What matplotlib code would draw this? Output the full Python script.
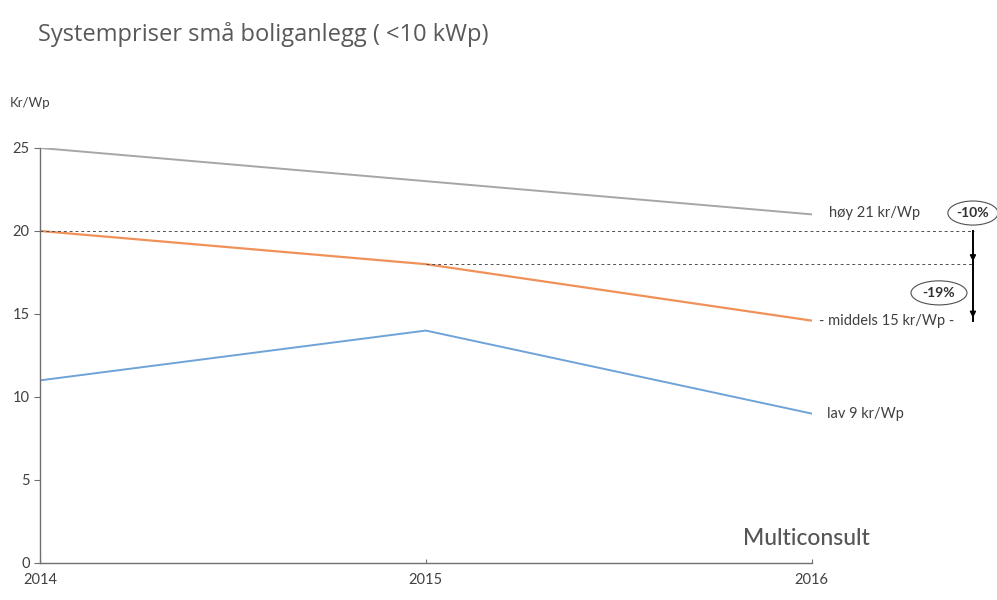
import matplotlib.pyplot as plt
from matplotlib.patches import Ellipse

plt.rcParams['font.family'] = ['Lato', 'DejaVu Sans']

years = [2014, 2015, 2016]
hoy = [25, 23, 21]
middels = [20, 18, 14.6]
lav = [11, 14, 9]
yticks = [0, 5, 10, 15, 20, 25]

grey = '#a6a6a6'
orange = '#f0915a'
blue = '#6fa3d8'
text_col = '#404040'

fig = plt.figure(figsize=(9.97, 6), dpi=100)
ax = fig.add_axes([0.0401, 0.0617, 0.774, 0.6917])

ax.plot(years, hoy, color=grey, lw=1.4)
ax.plot(years, middels, color=orange, lw=1.6)
ax.plot(years, lav, color=blue, lw=1.4)

ax.set_xlim(2014, 2016)
ax.set_ylim(0, 25)
ax.set_yticks(yticks)
ax.set_xticks(years)
ax.tick_params(axis='both', labelsize=10.5, colors='#707070', labelcolor=text_col, length=4, width=0.8)
ax.tick_params(axis='x', direction='in', length=3, pad=7)
for s in ['top', 'right']:
    ax.spines[s].set_visible(False)
for s in ['left', 'bottom']:
    ax.spines[s].set_color('#707070')
    ax.spines[s].set_linewidth(1.0)

# reference levels for the price change
x_end = 2016.42
ax.plot([2014, x_end], [middels[0], middels[0]], ls=(0, (3, 3)), color='#505050', lw=0.7, clip_on=False)
ax.plot([2015, x_end], [middels[1], middels[1]], ls=(0, (3, 3)), color='#505050', lw=0.7, clip_on=False)

# change arrow: one line from 2014 level down to 2016 level, heads at each step
xa = 2016.418
ax.plot([xa, xa], [middels[0], middels[2]], color='black', lw=1.4, clip_on=False)
for y in middels[1:]:
    ax.annotate('', xy=(xa, y), xytext=(xa, y + 0.8),
                arrowprops=dict(arrowstyle='-|>', color='black', lw=1.0, mutation_scale=9),
                annotation_clip=False)

pct10 = round((middels[1] / middels[0] - 1) * 100)
pct19 = round((middels[2] / middels[1] - 1) * 100)
ax.text(2016.418, 21.08, f'{pct10}%', fontsize=10, fontweight='bold', color='#303030',
        ha='center', va='center', clip_on=False)
ax.add_patch(Ellipse((2016.418, 21.08), 0.13, 1.45, fill=False, ec='#505050', lw=0.8, clip_on=False))
ax.text(2016.33, 16.27, f'{pct19}%', fontsize=10, fontweight='bold', color='#303030',
        ha='center', va='center', clip_on=False)
ax.add_patch(Ellipse((2016.33, 16.27), 0.145, 1.45, fill=False, ec='#505050', lw=0.8, clip_on=False))

# series labels at the end of each line
ax.text(2016.045, hoy[-1] + 0.1, f'høy {round(hoy[-1])} kr/Wp', fontsize=10.5, color=text_col, va='center', clip_on=False)
ax.text(2016.02, middels[-1], f'- middels {round(middels[-1])} kr/Wp -', fontsize=10.5, color=text_col, va='center', clip_on=False)
ax.text(2016.04, lav[-1], f'lav {round(lav[-1])} kr/Wp', fontsize=10.5, color=text_col, va='center', clip_on=False)

fig.text(0.038, 0.942, 'Systempriser små boliganlegg ( <10 kWp)', fontsize=17, color='#595959', va='center',
         family=['Open Sans', 'DejaVu Sans'])
fig.text(0.01, 0.829, 'Kr/Wp', fontsize=9.5, color=text_col, va='center')
fig.text(0.745, 0.103, 'Multiconsult', fontsize=16.5, color='#555555', va='center', fontweight='medium')

fig.savefig('out.png', dpi=100)
